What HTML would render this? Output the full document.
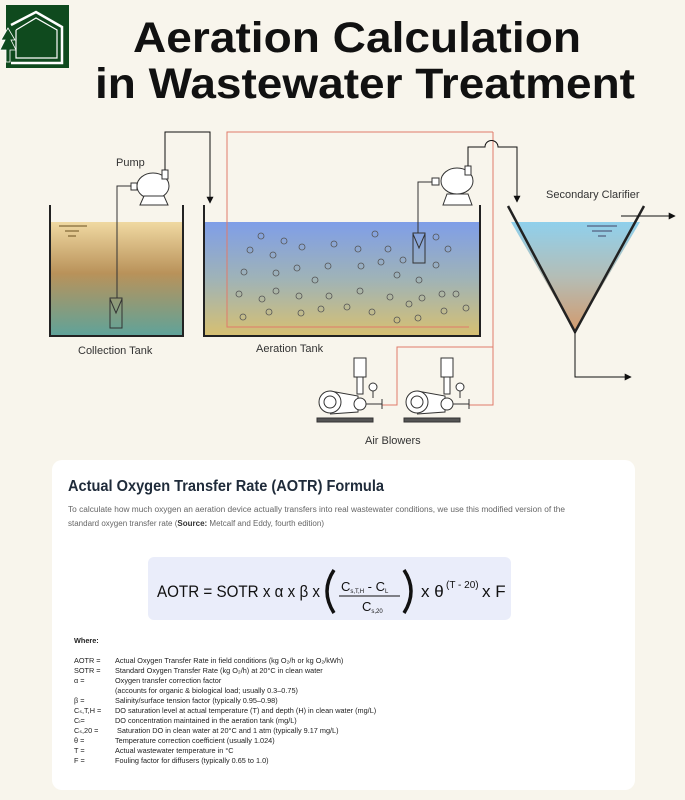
<!DOCTYPE html>
<html><head><meta charset="utf-8"><style>
body{margin:0;background:#f8f5ec;}
svg{display:block;font-family:"Liberation Sans",Arial,sans-serif;}
</style></head><body>
<svg width="685" height="800" viewBox="0 0 685 800" xmlns="http://www.w3.org/2000/svg">
<defs>
<linearGradient id="gc" x1="0" y1="0" x2="0" y2="1">
<stop offset="0" stop-color="#f0d9a2"/><stop offset="0.45" stop-color="#b9925a"/><stop offset="1" stop-color="#5fa39a"/></linearGradient>
<linearGradient id="ga" x1="0" y1="0" x2="0" y2="1">
<stop offset="0" stop-color="#7f9ee8"/><stop offset="0.5" stop-color="#9fb3b7"/><stop offset="1" stop-color="#d7c071"/></linearGradient>
<linearGradient id="gs" x1="0" y1="0" x2="0" y2="1">
<stop offset="0" stop-color="#8fd0ec"/><stop offset="0.5" stop-color="#b4bdb6"/><stop offset="1" stop-color="#d39a6c"/></linearGradient>
<marker id="ar" viewBox="0 0 10 10" refX="9" refY="5" markerWidth="7" markerHeight="7" orient="auto"><path d="M0,0L10,5L0,10z" fill="#111"/></marker>
</defs>
<rect width="685" height="800" fill="#f8f5ec"/>
<!-- logo -->
<rect x="6" y="5" width="63" height="63" fill="#0f4a1e"/>
<path d="M11,25 L36,12 L62,27 L62,63 L11,63" fill="none" stroke="#fff" stroke-width="2.5"/>
<path d="M16,30 L36,18 L57,30 L57,58 L16,58 L16,30" fill="none" stroke="#fff" stroke-width="1.2"/>
<path d="M8,28 L1,40 L5,40 L0,50 L6,50 L6,62 L10,62 L10,50 L16,50 L11,40 L15,40 Z" fill="#0f4a1e" stroke="#fff" stroke-width="0.8"/>
<!-- title -->
<text x="357" y="52" font-size="43" font-weight="bold" text-anchor="middle" fill="#111" textLength="448" lengthAdjust="spacingAndGlyphs">Aeration Calculation</text>
<text x="365" y="98" font-size="43" font-weight="bold" text-anchor="middle" fill="#111" textLength="540" lengthAdjust="spacingAndGlyphs">in Wastewater Treatment</text>
<!-- collection tank -->
<rect x="51" y="222" width="132" height="114" fill="url(#gc)"/>
<path d="M50,205 L50,336 L183,336 L183,205" fill="none" stroke="#222" stroke-width="2"/>
<path d="M59,226h28M65,231h14M68,236h8" stroke="#6a5020" stroke-width="1"/>
<!-- aeration tank -->
<rect x="205" y="222" width="275" height="114" fill="url(#ga)"/>
<path d="M204,205 L204,336 L480,336 L480,205" fill="none" stroke="#222" stroke-width="2"/>
<g fill="none" stroke="#555" stroke-width="0.8">
<circle cx="261" cy="236" r="3"/><circle cx="284" cy="241" r="3"/><circle cx="250" cy="250" r="3"/><circle cx="273" cy="255" r="3"/><circle cx="302" cy="247" r="3"/><circle cx="334" cy="244" r="3"/><circle cx="358" cy="249" r="3"/><circle cx="375" cy="234" r="3"/><circle cx="388" cy="249" r="3"/><circle cx="436" cy="237" r="3"/><circle cx="448" cy="249" r="3"/>
<circle cx="244" cy="272" r="3"/><circle cx="276" cy="273" r="3"/><circle cx="297" cy="268" r="3"/><circle cx="328" cy="266" r="3"/><circle cx="361" cy="266" r="3"/><circle cx="381" cy="262" r="3"/><circle cx="403" cy="260" r="3"/><circle cx="397" cy="275" r="3"/><circle cx="436" cy="265" r="3"/><circle cx="315" cy="280" r="3"/><circle cx="419" cy="280" r="3"/>
<circle cx="239" cy="294" r="3"/><circle cx="262" cy="299" r="3"/><circle cx="276" cy="291" r="3"/><circle cx="299" cy="296" r="3"/><circle cx="329" cy="296" r="3"/><circle cx="360" cy="291" r="3"/><circle cx="390" cy="297" r="3"/><circle cx="409" cy="304" r="3"/><circle cx="422" cy="298" r="3"/><circle cx="442" cy="294" r="3"/><circle cx="456" cy="294" r="3"/>
<circle cx="243" cy="317" r="3"/><circle cx="269" cy="312" r="3"/><circle cx="301" cy="313" r="3"/><circle cx="321" cy="309" r="3"/><circle cx="347" cy="307" r="3"/><circle cx="372" cy="312" r="3"/><circle cx="397" cy="320" r="3"/><circle cx="418" cy="318" r="3"/><circle cx="444" cy="311" r="3"/><circle cx="466" cy="308" r="3"/>
</g>
<!-- red air line -->
<path d="M493,132 L227,132 L227,327 L469,327 M493,132 L493,405 L469,405 M493,347 L397,347 L397,405 L382,405" fill="none" stroke="#e07a6a" stroke-width="1"/>
<!-- clarifier -->
<path d="M511,222 L640,222 L575,332 Z" fill="url(#gs)"/>
<path d="M508,206 L575,332 L644,206" fill="none" stroke="#222" stroke-width="2.5"/>
<path d="M587,226h30M592,231h20M598,236h8" stroke="#446" stroke-width="1"/>
<path d="M621,216 L675,216" stroke="#111" marker-end="url(#ar)"/>
<path d="M575,332 L575,377 L631,377" fill="none" stroke="#111" marker-end="url(#ar)"/>
<!-- pump 1 -->
<ellipse cx="153" cy="186" rx="16" ry="13" fill="#fff" stroke="#333"/>
<path d="M140,205 L144,196 L164,196 L168,205 Z" fill="#fff" stroke="#333"/>
<rect x="162" y="170" width="6" height="9" fill="#fff" stroke="#333"/>
<rect x="131" y="183" width="6" height="7" fill="#fff" stroke="#333"/>
<path d="M165,170 L165,132 L210,132 L210,203" fill="none" stroke="#111" marker-end="url(#ar)"/>
<path d="M131,186 L117,186 L117,298" fill="none" stroke="#333"/>
<rect x="110" y="298" width="12" height="30" fill="none" stroke="#333"/>
<path d="M110,299 L116,313 L122,299" fill="none" stroke="#333"/>
<!-- pump 2 -->
<ellipse cx="457" cy="181" rx="16" ry="13" fill="#fff" stroke="#333"/>
<path d="M443,205 L447,194 L468,194 L472,205 Z" fill="#fff" stroke="#333"/>
<rect x="465" y="166" width="6" height="9" fill="#fff" stroke="#333"/>
<rect x="432" y="178" width="7" height="7" fill="#fff" stroke="#333"/>
<path d="M468,166 L468,147 L485,147 A6.5,6.5 0 0 1 498,147 L517,147 L517,202" fill="none" stroke="#111" marker-end="url(#ar)"/>
<path d="M432,182 L418,182 L418,233" fill="none" stroke="#333"/>
<rect x="413" y="233" width="12" height="30" fill="none" stroke="#333"/>
<path d="M413,234 L419,248 L425,234" fill="none" stroke="#333"/>
<!-- labels -->
<text x="116" y="166" font-size="11" fill="#333">Pump</text>
<text x="78" y="354" font-size="11" fill="#333">Collection Tank</text>
<text x="256" y="352" font-size="11" fill="#333">Aeration Tank</text>
<text x="546" y="198" font-size="11" fill="#333">Secondary Clarifier</text>
<text x="365" y="444" font-size="11" fill="#333">Air Blowers</text>
<!-- blowers -->
<g id="bl" fill="#fff" stroke="#333" stroke-width="1">
<rect x="354" y="358" width="12" height="19"/>
<rect x="357" y="377" width="6" height="17"/>
<path d="M330,391 L358,396 L358,412 L330,414"/>
<circle cx="330" cy="402" r="11"/><circle cx="330" cy="402" r="6"/>
<circle cx="360" cy="404" r="6"/>
<path d="M366,404 L382,404 M382,399 L382,409"/>
<circle cx="373" cy="387" r="4"/><path d="M373,391 L373,398"/>
<rect x="317" y="418" width="56" height="4" fill="#555"/>
</g>
<use href="#bl" transform="translate(87,0)"/>
<!-- card -->
<rect x="52" y="460" width="583" height="330" rx="10" fill="#fff"/>
<text x="68" y="491" font-size="15.5" font-weight="bold" fill="#1f2b3a" textLength="316" lengthAdjust="spacingAndGlyphs">Actual Oxygen Transfer Rate (AOTR) Formula</text>
<text x="68" y="512" font-size="8" fill="#666" textLength="497" lengthAdjust="spacingAndGlyphs">To calculate how much oxygen an aeration device actually transfers into real wastewater conditions, we use this modified version of the</text>
<text x="68" y="526" font-size="8" fill="#666">standard oxygen transfer rate (<tspan font-weight="bold" fill="#333">Source:</tspan> Metcalf and Eddy, fourth edition)</text>
<rect x="148" y="557" width="363" height="63" rx="6" fill="#eaedfa"/>
<text x="157" y="597" font-size="17" fill="#111" textLength="163" lengthAdjust="spacingAndGlyphs">AOTR = SOTR  x α x β x</text>
<path d="M334,570 Q320,591 334,613" fill="none" stroke="#111" stroke-width="3.5"/>
<path d="M404,570 Q418,591 404,613" fill="none" stroke="#111" stroke-width="3.5"/>
<text x="341" y="591" font-size="13" fill="#111">C<tspan font-size="6" dy="2">s,T,H</tspan><tspan dy="-2"> - C</tspan><tspan font-size="6" dy="2">L</tspan></text>
<line x1="339" y1="596" x2="400" y2="596" stroke="#111"/>
<text x="362" y="611" font-size="13" fill="#111">C<tspan font-size="6" dy="2">s,20</tspan></text>
<text x="421" y="597" font-size="17" fill="#111">x θ</text>
<text x="446" y="588" font-size="10" fill="#111">(T - 20)</text>
<text x="482" y="597" font-size="17" fill="#111">x F</text>
<g font-size="7.3" fill="#222">
<text x="74" y="643" font-weight="bold">Where:</text>
<text x="74" y="663">AOTR  =</text><text x="115" y="663">Actual Oxygen Transfer Rate in field conditions (kg O₂/h or kg O₂/kWh)</text>
<text x="74" y="673">SOTR =</text><text x="115" y="673">Standard Oxygen Transfer Rate (kg O₂/h) at 20°C in clean water</text>
<text x="74" y="683">α =</text><text x="115" y="683">Oxygen transfer correction factor</text>
<text x="115" y="693">(accounts for organic &amp; biological load; usually 0.3–0.75)</text>
<text x="74" y="703">β =</text><text x="115" y="703">Salinity/surface tension factor (typically 0.95–0.98)</text>
<text x="74" y="713">Cₛ,T,H =</text><text x="115" y="713">DO saturation level at actual temperature (T) and depth (H) in clean water (mg/L)</text>
<text x="74" y="723">Cₗ=</text><text x="115" y="723">DO concentration maintained in the aeration tank (mg/L)</text>
<text x="74" y="733">Cₛ,20  =</text><text x="117" y="733">Saturation DO in clean water at 20°C and 1 atm (typically 9.17 mg/L)</text>
<text x="74" y="743">θ  =</text><text x="115" y="743">Temperature correction coefficient (usually 1.024)</text>
<text x="74" y="753">T =</text><text x="115" y="753">Actual wastewater temperature in °C</text>
<text x="74" y="763">F =</text><text x="115" y="763">Fouling factor for diffusers (typically 0.65 to 1.0)</text>
</g>
</svg>
</body></html>
